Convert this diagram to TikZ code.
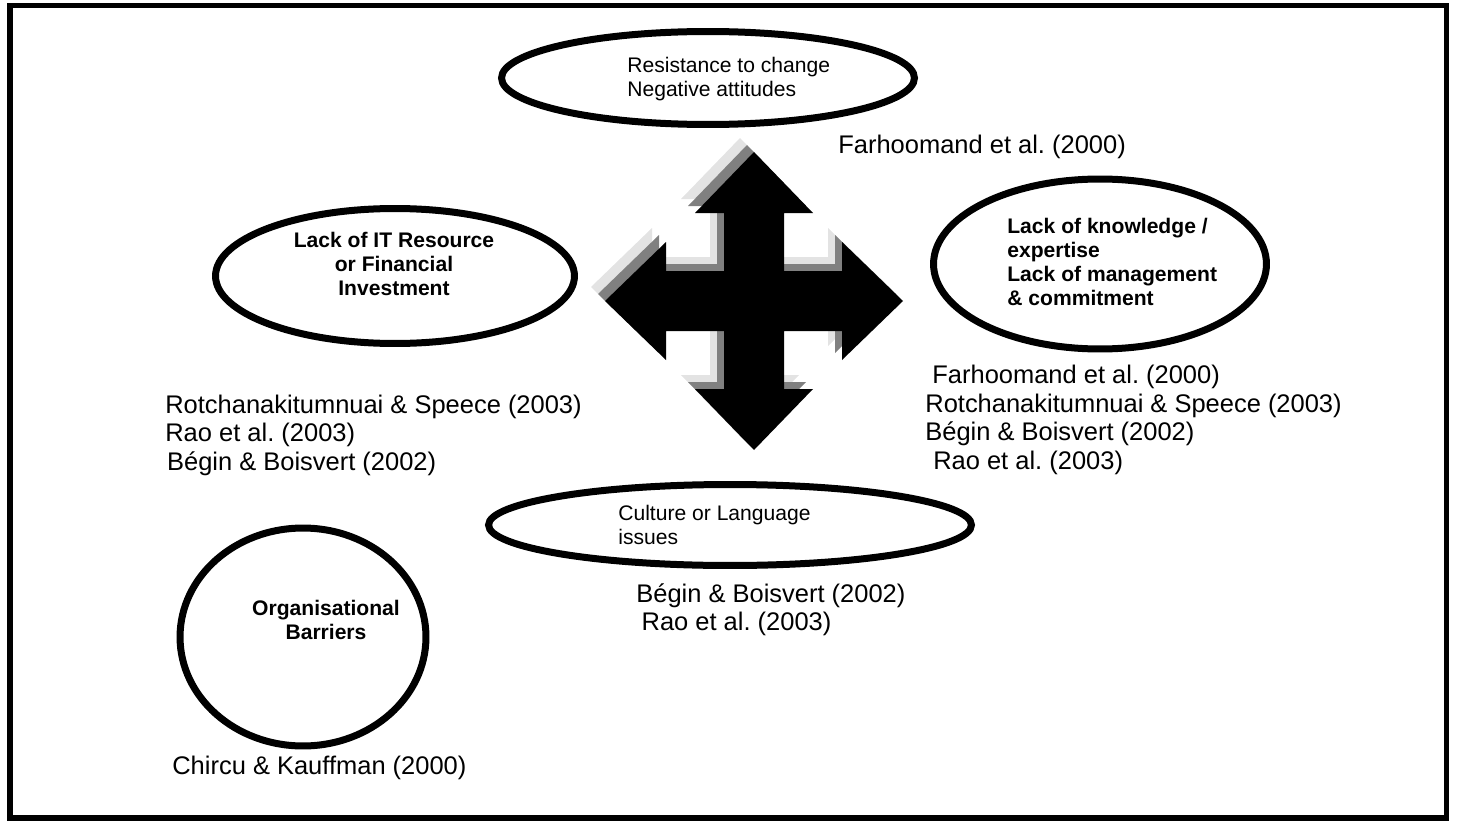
\documentclass[tikz,border=0pt]{standalone}
\usepackage{fontspec}
\setmainfont{Liberation Sans}
\usepackage{tikz}
\usetikzlibrary{shapes}
\frenchspacing
\definecolor{shadowlight}{gray}{0.89}
\definecolor{shadowdark}{gray}{0.5}
\newcommand{\citesize}{\fontsize{14.5pt}{16.2pt}\selectfont}
\newcommand{\ovalsize}{\fontsize{12pt}{13.7pt}\selectfont}
\tikzset{
	barrier/.style  = {draw, ellipse, line width = 0.14cm, inner sep = 0pt},
	ovaltext/.style = {align = left, inner sep = 0pt, font = \ovalsize},
	citation/.style = {anchor = west, align = left, inner sep = 0pt,
		font = \citesize},
	movearrow/.pic  = {\fill[#1] (0,-149) -- (59,-88) -- (30,-88) -- (30,-30)
		-- (88,-30) -- (88,-59) -- (149,0) -- (88,59) -- (88,30) -- (30,30)
		-- (30,88) -- (59,88) -- (0,149) -- (-59,88) -- (-30,88) -- (-30,30)
		-- (-88,30) -- (-88,59) -- (-149,0) -- (-88,-59) -- (-88,-30)
		-- (-30,-30) -- (-30,-88) -- (-59,-88) -- cycle;}
}

\begin{document}
\begin{tikzpicture}[x=0.02cm, y=-0.02cm]
\useasboundingbox (0,0) rectangle (1457,821);
\draw[line width = 0.11cm] (10,5.5) rectangle (1446.5,818);

% the arrow in the middle, with its shadow
\pic at (740,287) {movearrow=shadowlight};
\pic at (747,294) {movearrow=shadowdark};
\pic at (754,301) {movearrow=black};

% Drawing the ovals
\draw
node at (708,78) [barrier, minimum width = 8.26cm, minimum height = 1.86cm] (resist) {}
node at (395,276) [barrier, minimum width = 7.18cm, minimum height = 2.7cm] (resource) {}
node at (1100,264) [barrier, minimum width = 6.66cm, minimum height = 3.4cm] (knowledge) {}
node at (730,525) [barrier, minimum width = 9.66cm, minimum height = 1.62cm] (culture) {}
node at (303,637) [barrier, minimum width = 4.92cm, minimum height = 4.36cm] (organisation) {};

% texts of the ovals
\draw
node at (627,79) [ovaltext, anchor = west] (resist-txt) {Resistance to change\\Negative attitudes}
node at (394,264) [ovaltext, align = center, font = \ovalsize\bfseries] (resource-txt)
	{Lack of IT Resource\\or Financial\\Investment}
node at (1007,262) [ovaltext, anchor = west, font = \ovalsize\bfseries] (knowledge-txt)
	{Lack of knowledge /\\expertise\\Lack of management\\\& commitment}
node at (618,525) [ovaltext, anchor = west] (culture-txt) {Culture or Language\\issues}
node at (326,620) [ovaltext, align = center, font = \ovalsize\bfseries] (organisation-txt)
	{Organisational\\Barriers};

% references
\draw
node at (838,147) [citation] (resist-ref) {Farhoomand et al. (2000)}
node at (165,435) [citation] (resource-ref)
	{Rotchanakitumnuai \& Speece (2003)\\Rao et al. (2003)\\\hspace*{1pt}Bégin \& Boisvert (2002)}
node at (925,420) [citation] (knowledge-ref)
	{\hspace*{4pt}Farhoomand et al. (2000)\\Rotchanakitumnuai \& Speece (2003)\\Bégin \& Boisvert (2002)\\\hspace*{4.5pt}Rao et al. (2003)}
node at (636,610) [citation] (culture-ref) {Bégin \& Boisvert (2002)\\\hspace*{3pt}Rao et al. (2003)}
node at (172,768) [citation] (organisation-ref) {Chircu \& Kauffman (2000)};
\end{tikzpicture}
\end{document}
